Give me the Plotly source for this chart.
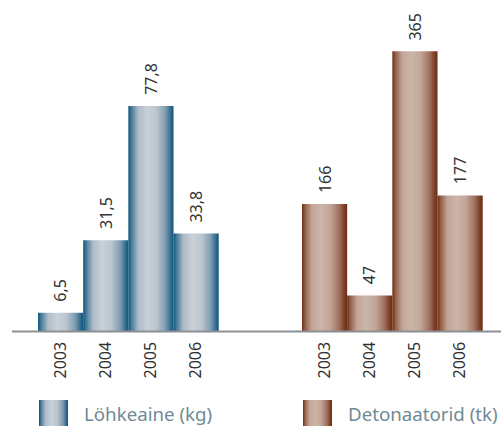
import plotly.graph_objects as go

# ---------------- data ----------------
years = ["2003", "2004", "2005", "2006"]
explosive_kg = [6.5, 31.5, 77.8, 33.8]
explosive_labels = ["6,5", "31,5", "77,8", "33,8"]
detonators_pcs = [166, 47, 365, 177]
detonator_labels = ["166", "47", "365", "177"]
series_names = ["Löhkeaine (kg)", "Detonaatorid (tk)"]

# ---------------- style ----------------
W, H = 501, 426
FONT = "Noto Sans"
BASE_PX = 331.5            # baseline pixel row


def px(x):
    return x / W


def py(y):
    return 1 - y / H


blue_scale = [
    [0.0, "#0a567b"], [0.07, "#4a7b99"], [0.22, "#aebcc8"], [0.42, "#c9d0d8"],
    [0.62, "#bcc6cf"], [0.82, "#7f9db1"], [0.93, "#3a6f91"], [1.0, "#0a567b"],
]
brown_scale = [
    [0.0, "#6b2c12"], [0.07, "#93604a"], [0.22, "#c3a597"], [0.42, "#cbb5a9"],
    [0.62, "#c2a698"], [0.82, "#a07260"], [0.93, "#7e4129"], [1.0, "#6b2c12"],
]

fig = go.Figure()


def add_group(values, labels, xa, ya, scale):
    for i, v in enumerate(values):
        x0, x1 = i - 0.5, i + 0.5
        fig.add_trace(go.Scatter(
            x=[x0, x0, x1, x1, x0], y=[0, v, v, 0, 0],
            mode="lines", line=dict(width=0), fill="toself",
            fillgradient=dict(type="horizontal", colorscale=scale),
            xaxis=xa, yaxis=ya, hoverinfo="skip", showlegend=False))
        fig.add_annotation(
            x=i, y=v, xref=xa, yref=ya, text=labels[i], textangle=-90,
            showarrow=False, yanchor="bottom", xanchor="center", yshift=9,
            font=dict(family=FONT, size=16, color="#333333"))


add_group(explosive_kg, explosive_labels, "x", "y", blue_scale)
add_group(detonators_pcs, detonator_labels, "x2", "y2", brown_scale)

# legend swatches (in a pixel-like helper axis)
legend_items = [(39, 68, series_names[0], blue_scale), (303, 332, series_names[1], brown_scale)]
for x0, x1, name, scale in legend_items:
    fig.add_trace(go.Scatter(
        x=[x0, x0, x1, x1, x0], y=[400, 430, 430, 400, 400],
        mode="lines", line=dict(width=0), fill="toself",
        fillgradient=dict(type="horizontal", colorscale=scale),
        xaxis="x3", yaxis="y3", hoverinfo="skip", showlegend=False))
    fig.add_annotation(
        x=px(x1 + 14), y=py(413), xref="paper", yref="paper", text=name,
        showarrow=False, xanchor="left", yanchor="middle",
        font=dict(family=FONT, size=18.7, color="#6f8a94"))

# baseline
fig.add_shape(type="line", xref="paper", yref="paper",
              x0=px(12), x1=1, y0=py(BASE_PX), y1=py(BASE_PX),
              line=dict(color="#8a9094", width=2))

ydom = [py(BASE_PX), 1]
tickfont = dict(family=FONT, size=16, color="#333333")
common_x = dict(showgrid=False, zeroline=False, showline=False, tickangle=-90,
                tickmode="array", tickvals=[0, 1, 2, 3], ticktext=years,
                ticks="outside", ticklen=3, tickcolor="rgba(0,0,0,0)",
                tickfont=tickfont, fixedrange=True)
common_y = dict(visible=False, showgrid=False, zeroline=False, fixedrange=True)

fig.update_layout(
    width=W, height=H,
    margin=dict(l=0, r=0, t=0, b=0),
    paper_bgcolor="white", plot_bgcolor="white",
    showlegend=False,
    xaxis=dict(domain=[px(12), px(256)], range=[-1.076, 4.326], anchor="y", **common_x),
    xaxis2=dict(domain=[px(256), 1], range=[-1.518, 3.905], anchor="y2", **common_x),
    yaxis=dict(domain=ydom, range=[0, BASE_PX / 2.9], anchor="x", **common_y),
    yaxis2=dict(domain=ydom, range=[0, BASE_PX / 0.768], anchor="x2", **common_y),
    xaxis3=dict(domain=[0, 1], range=[0, W], visible=False, anchor="y3", fixedrange=True),
    yaxis3=dict(domain=[0, py(392)], range=[H, 392], visible=False, anchor="x3", fixedrange=True),
)

fig.write_html("out.html", config={"displayModeBar": False},
               post_script="document.body.style.margin='0';")
